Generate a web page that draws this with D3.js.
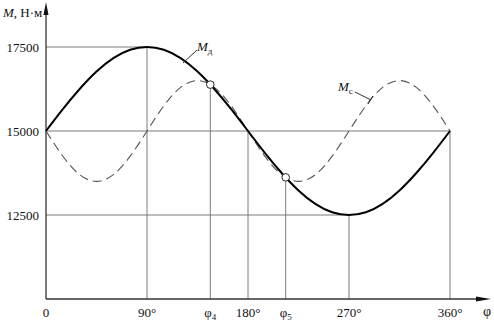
<!DOCTYPE html>
<html><head><meta charset="utf-8">
<script src="https://cdn.jsdelivr.net/npm/d3@7"></script>
<style>body{margin:0;background:#fff}svg{display:block}</style>
</head><body><svg id="c" width="494" height="321"></svg>
<script>
// Angles (degrees) at which values were read
const angles = [0,15,30,45,60,75,90,105,120,135,150,165,180,195,210,225,240,255,270,285,300,315,330,345,360];
// Motor torque M_д, N·m
const mDrive = [15000,15650,16250,16770,17170,17420,17500,17420,17170,16770,16250,15650,15000,14350,13750,13230,12830,12580,12500,12580,12830,13230,13750,14350,15000];
// Resistance torque M_c, N·m
const mRes = [15000,14250,13700,13500,13700,14250,15000,15750,16300,16500,16300,15750,15000,14250,13700,13500,13700,14250,15000,15750,16300,16500,16300,15750,15000];
// Y tick values
const yTicks = [12500,15000,17500];
// X labels
const xLabels = [{v:0,t:"0"},{v:90,t:"90°"},{v:146.4,t:"φ",s:"4"},{v:180,t:"180°"},{v:213.6,t:"φ",s:"5"},{v:270,t:"270°"},{v:360,t:"360°"}];
// Intersection points (φ, M)
const crossPts = [{a:146.4,m:16380},{a:213.6,m:13620}];

const FONT = "'Liberation Serif', 'Times New Roman', serif";
const svg = d3.select("#c");
const x = d3.scaleLinear().domain([0,360]).range([46,450]);
const y = d3.scaleLinear().domain([10000,17500]).range([299,47]);
const grid = "#7a7a7a";

const g = svg.append("g").attr("stroke",grid).attr("stroke-width",1);
g.append("line").attr("x1",x(0)).attr("x2",x(90)).attr("y1",y(17500)).attr("y2",y(17500));
g.append("line").attr("x1",x(0)).attr("x2",x(360)).attr("y1",y(15000)).attr("y2",y(15000));
g.append("line").attr("x1",x(0)).attr("x2",x(270)).attr("y1",y(12500)).attr("y2",y(12500));
g.append("line").attr("x1",x(90)).attr("x2",x(90)).attr("y1",y(17500)).attr("y2",y(10000));
g.append("line").attr("x1",x(180)).attr("x2",x(180)).attr("y1",y(15000)).attr("y2",y(10000));
g.append("line").attr("x1",x(270)).attr("x2",x(270)).attr("y1",y(12500)).attr("y2",y(10000));
g.append("line").attr("x1",x(360)).attr("x2",x(360)).attr("y1",y(15000)).attr("y2",y(10000));
crossPts.forEach(p=>g.append("line").attr("x1",x(p.a)).attr("x2",x(p.a)).attr("y1",y(p.m)).attr("y2",y(10000)));

svg.append("line").attr("x1",x(0)).attr("x2",x(0)).attr("y1",y(10000)).attr("y2",10).attr("stroke","#333").attr("stroke-width",1.3);
svg.append("path").attr("d",`M${x(0)},2 L${x(0)-2.5},15 L${x(0)+2.5},15 Z`).attr("fill","#111");
svg.append("line").attr("x1",x(0)).attr("x2",482).attr("y1",y(10000)).attr("y2",y(10000)).attr("stroke","#333").attr("stroke-width",1.3);
svg.append("path").attr("d",`M491,${y(10000)} L476,${y(10000)-2.5} L476,${y(10000)+2.5} Z`).attr("fill","#111");

const ya = svg.append("g").attr("transform",`translate(${x(0)},0)`)
  .call(d3.axisLeft(y).tickValues(yTicks).tickSize(0).tickPadding(7).tickFormat(d3.format("d")));
ya.select(".domain").remove();
ya.selectAll("text").style("font-family",FONT).style("font-size","13px").attr("fill","#111");

const xl = svg.append("g").selectAll("text").data(xLabels).join("text")
  .attr("x",d=>x(d.v)).attr("y",317).attr("text-anchor","middle").attr("fill","#111");
xl.append("tspan").text(d=>d.t);
xl.filter(d=>d.s).append("tspan").style("font-size","9px").attr("dy",3).text(d=>d.s);
svg.append("text").attr("x",487).attr("y",316).attr("text-anchor","middle").style("font-size","14px").attr("fill","#111").text("φ");

const yt = svg.append("text").attr("x",3).attr("y",17).attr("fill","#111");
yt.append("tspan").style("font-style","italic").text("M");
yt.append("tspan").text(", Н·м");

const line = d3.line().x((d,i)=>x(angles[i])).y(d=>y(d)).curve(d3.curveNatural);
svg.append("path").attr("d",line(mRes)).attr("fill","none").attr("stroke","#555").attr("stroke-width",1.1).attr("stroke-dasharray","9,5");
svg.append("path").attr("d",line(mDrive)).attr("fill","none").attr("stroke","#000").attr("stroke-width",2);

svg.selectAll("circle.cp").data(crossPts).join("circle").attr("class","cp")
  .attr("cx",d=>x(d.a)).attr("cy",d=>y(d.m)).attr("r",3.8).attr("fill","#fff").attr("stroke","#222").attr("stroke-width",1);

svg.append("line").attr("x1",183).attr("y1",63).attr("x2",197).attr("y2",50).attr("stroke","#333").attr("stroke-width",1);
const l1 = svg.append("text").attr("x",197).attr("y",51).attr("fill","#111");
l1.append("tspan").style("font-style","italic").text("M");
l1.append("tspan").style("font-size","9px").attr("dy",3).text("д");
svg.append("line").attr("x1",355).attr("y1",92).attr("x2",371).attr("y2",100).attr("stroke","#333").attr("stroke-width",1);
svg.append("line").attr("x1",368).attr("y1",104).attr("x2",373).attr("y2",96).attr("stroke","#333").attr("stroke-width",1);
const l2 = svg.append("text").attr("x",338).attr("y",91).attr("fill","#111");
l2.append("tspan").style("font-style","italic").text("M");
l2.append("tspan").style("font-size","9px").attr("dy",3).text("c");

svg.selectAll("text").style("font-family",FONT).each(function(){ if(!this.style.fontSize) this.style.fontSize="13px"; });
</script></body></html>
